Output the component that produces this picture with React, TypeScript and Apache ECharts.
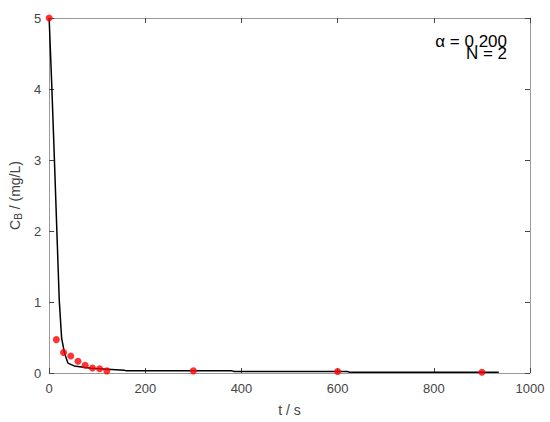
import React, { useEffect, useRef } from "react";
import * as echarts from "echarts";

const pointT = [0, 15, 30, 45, 60, 75, 90, 105, 120, 300, 600, 900];
const pointC = [5.0, 0.47, 0.29, 0.24, 0.165, 0.11, 0.07, 0.06, 0.03, 0.03, 0.02, 0.01];

const lineT = [0, 5.6, 11, 21, 26, 28, 32, 39, 52, 87, 156, 160, 380, 385, 620, 625, 935];
const lineC = [5.0, 4.03, 3.0, 1.03, 0.49, 0.42, 0.28, 0.14, 0.1, 0.066, 0.04, 0.03, 0.03, 0.02, 0.02, 0.01, 0.01];

const xTicks = [0, 200, 400, 600, 800, 1000];
const yTicks = [0, 1, 2, 3, 4, 5];

export default function App() {
  const ref = useRef<HTMLDivElement>(null);
  useEffect(() => {
    if (!ref.current) return;
    const chart = echarts.init(ref.current, undefined, { renderer: "svg" });
    const font = "Liberation Sans, Arial, sans-serif";
    const axisCommon = {
      axisLine: { show: true, onZero: false, lineStyle: { color: "#999", width: 1 } },
      axisTick: { show: true, inside: true, length: 5, lineStyle: { color: "#444" } },
      splitLine: { show: false },
    };
    chart.setOption({
      animation: false,
      backgroundColor: "#fff",
      grid: { left: 48, right: 20, top: 18, bottom: 49, containLabel: false },
      xAxis: [
        {
          type: "value",
          min: 0,
          max: xTicks[xTicks.length - 1],
          interval: 200,
          position: "bottom",
          name: "t / s",
          nameLocation: "middle",
          nameGap: 30,
          nameTextStyle: { color: "#444", fontSize: 14, fontFamily: font },
          axisLabel: { color: "#444", fontSize: 13, fontFamily: font, margin: 9, formatter: (v: number) => String(v) },
          ...axisCommon,
        },
        {
          type: "value",
          min: 0,
          max: 1000,
          interval: 200,
          position: "top",
          axisLabel: { show: false },
          ...axisCommon,
        },
      ],
      yAxis: [
        {
          type: "value",
          min: 0,
          max: yTicks[yTicks.length - 1],
          interval: 1,
          position: "left",
          name: "C{sub|B} / (mg/L)",
          nameLocation: "middle",
          nameGap: 22,
          nameRotate: 90,
          nameTextStyle: {
            color: "#444",
            fontSize: 14,
            fontFamily: font,
            rich: {
              sub: { fontSize: 10, fontFamily: font, color: "#444", verticalAlign: "bottom", padding: [6, 0, 0, 0] },
            },
          },
          axisLabel: { color: "#444", fontSize: 13, fontFamily: font, margin: 8 },
          ...axisCommon,
        },
        {
          type: "value",
          min: 0,
          max: 5,
          interval: 1,
          position: "right",
          axisLabel: { show: false },
          ...axisCommon,
        },
      ],
      series: [
        {
          type: "line",
          data: lineT.map((t, i) => [t, lineC[i]]),
          showSymbol: false,
          symbol: "none",
          lineStyle: { color: "#000", width: 1.5 },
          z: 2,
        },
        {
          type: "scatter",
          data: pointT.map((t, i) => [t, pointC[i]]),
          symbol: "circle",
          symbolSize: 7,
          itemStyle: { color: "#ff0000" },
          z: 3,
        },
      ],
      graphic: [
        {
          type: "text",
          right: 43,
          top: 33,
          style: { text: "α = 0.200", fontSize: 17, fontFamily: font, fill: "#000", textAlign: "right" },
        },
        {
          type: "text",
          right: 43,
          top: 45,
          style: { text: "N = 2", fontSize: 17, fontFamily: font, fill: "#000", textAlign: "right" },
        },
      ],
    });
    return () => chart.dispose();
  }, []);
  return (
    <div
      ref={ref}
      style={{ position: "fixed", left: 0, top: 0, width: 550, height: 422 }}
    />
  );
}
